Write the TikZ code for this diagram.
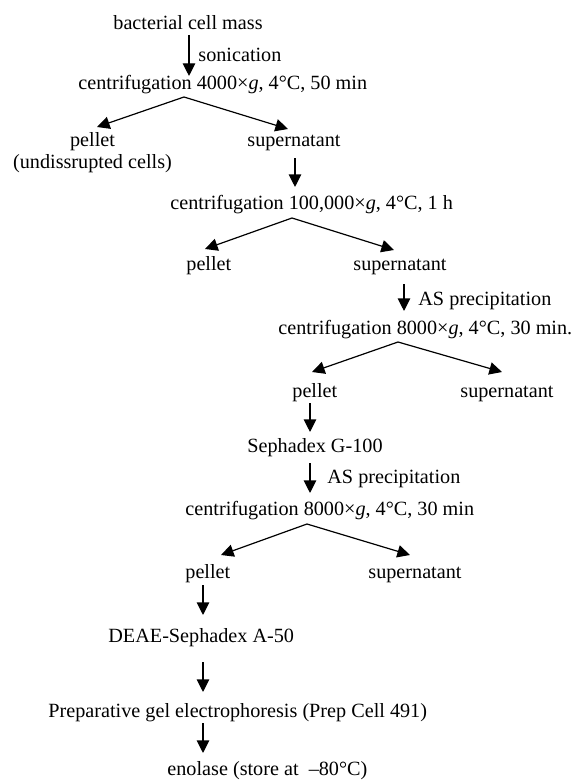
\documentclass[tikz,border=0pt]{standalone}
\usepackage{fontspec}
\setmainfont{Liberation Serif}
\usetikzlibrary{arrows.meta}
\begin{document}
\begin{tikzpicture}[x=0.5pt,y=-0.5pt,
  lbl/.style={anchor=base west, inner sep=0pt, font=\fontsize{10.1}{12}\selectfont},
  clbl/.style={lbl, anchor=base},
  arr/.style={-{Triangle[length=6.3pt,width=6.2pt]}, line width=0.6pt}]
\useasboundingbox (0,0) rectangle (574,781);
% text nodes
\node[lbl] (n1) at (113,30) {bacterial cell mass};
\node[lbl] (l1) at (198,62) {sonication};
\node[lbl] (c1) at (78,90) {centrifugation 4000×\textit{g}, 4°C, 50 min};
\node[clbl] (p1a) at (92.5,147) {pellet};
\node[clbl] (p1b) at (92.5,168) {(undissrupted cells)};
\node[lbl] (s1) at (247,147) {supernatant};
\node[lbl] (c2) at (170,209) {centrifugation 100,000×\textit{g}, 4°C, 1 h};
\node[lbl] (p2) at (186,270) {pellet};
\node[lbl] (s2) at (353,270) {supernatant};
\node[lbl] (l2) at (418,305) {AS precipitation};
\node[lbl] (c3) at (278,334) {centrifugation 8000×\textit{g}, 4°C, 30 min.};
\node[lbl] (p3) at (292,397) {pellet};
\node[lbl] (s3) at (460,397) {supernatant};
\node[lbl] (g100) at (247,452) {Sephadex G-100};
\node[lbl] (l3) at (327,483) {AS precipitation};
\node[lbl] (c4) at (185,515) {centrifugation 8000×\textit{g}, 4°C, 30 min};
\node[lbl] (p4) at (185,578) {pellet};
\node[lbl] (s4) at (368,578) {supernatant};
\node[lbl] (deae) at (108,642) {DEAE-Sephadex A-50};
\node[lbl] (prep) at (48,717) {Preparative gel electrophoresis (Prep Cell 491)};
\node[lbl] (eno) at (167,775) {enolase (store at~~–80°C)};
% arrow end points
\coordinate (a1s) at (189,35);  \coordinate (a1e) at (189,76);
\coordinate (f1) at (184,97);   \coordinate (f1l) at (97,127);  \coordinate (f1r) at (288,129);
\coordinate (a2s) at (295,158); \coordinate (a2e) at (295,187);
\coordinate (f2) at (292,218);  \coordinate (f2l) at (205,249); \coordinate (f2r) at (394,250);
\coordinate (a3s) at (404,284); \coordinate (a3e) at (404,311);
\coordinate (f3) at (398,342);  \coordinate (f3l) at (312,372); \coordinate (f3r) at (502,372);
\coordinate (a4s) at (310,403); \coordinate (a4e) at (310,432);
\coordinate (a5s) at (310,463); \coordinate (a5e) at (310,493);
\coordinate (f4) at (307,524);  \coordinate (f4l) at (221,555); \coordinate (f4r) at (410,555);
\coordinate (a6s) at (203,585); \coordinate (a6e) at (203,615);
\coordinate (a7s) at (203,662); \coordinate (a7e) at (203,692);
\coordinate (a8s) at (203,723); \coordinate (a8e) at (203,753);
% connectors
\draw[arr] (a1s) -- (a1e);
\draw[arr] (f1) -- (f1l);
\draw[arr] (f1) -- (f1r);
\draw[arr] (a2s) -- (a2e);
\draw[arr] (f2) -- (f2l);
\draw[arr] (f2) -- (f2r);
\draw[arr] (a3s) -- (a3e);
\draw[arr] (f3) -- (f3l);
\draw[arr] (f3) -- (f3r);
\draw[arr] (a4s) -- (a4e);
\draw[arr] (a5s) -- (a5e);
\draw[arr] (f4) -- (f4l);
\draw[arr] (f4) -- (f4r);
\draw[arr] (a6s) -- (a6e);
\draw[arr] (a7s) -- (a7e);
\draw[arr] (a8s) -- (a8e);
\end{tikzpicture}
\end{document}
